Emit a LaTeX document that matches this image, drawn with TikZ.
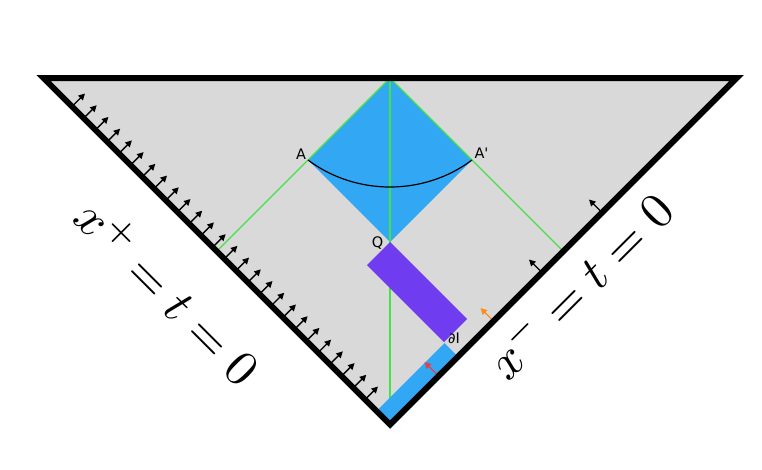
\documentclass[tikz,border=0pt]{standalone}
\usepackage{fontspec}
\newfontfamily\dejavu{DejaVu Sans}[Ligatures=TeXOff]
\usetikzlibrary{arrows.meta}
\definecolor{bggray}{RGB}{217,217,217}
\definecolor{wedgeblue}{RGB}{50,168,245}
\definecolor{islandpurple}{RGB}{111,60,240}
\definecolor{limeline}{RGB}{70,225,70}
\definecolor{arrorange}{RGB}{255,140,30}
\definecolor{arrred}{RGB}{232,62,72}
\begin{document}
\begin{tikzpicture}[x=1pt,y=-1pt,
  edgearrow/.style={-{Triangle[length=6.5pt,width=6.5pt]}, line width=1.4pt},
  greenline/.style={limeline, line width=1.1pt},
  ptlabel/.style={font=\dejavu\fontsize{14.5}{16}\selectfont, inner sep=0pt},
  biglabel/.style={inner sep=0pt}]
\useasboundingbox (0,0) rectangle (762,469);
% vertices
\coordinate (L) at (43.5,78);
\coordinate (R) at (736.5,78);
\coordinate (B) at (390,424.5);
\coordinate (T) at (390,78);
\coordinate (A) at (308,160);
\coordinate (Ap) at (472,160);
\coordinate (Q) at (390,242);
\coordinate (GL) at (217,251);
\coordinate (GR) at (563.5,251.5);
% background
\fill[bggray] (L) -- (R) -- (B) -- cycle;
% diamond
\fill[wedgeblue] (T) -- (Ap) -- (Q) -- (A) -- cycle;
% green lines
\draw[greenline] (T) -- (GL);
\draw[greenline] (T) -- (GR);
\draw[greenline] (T) -- (B);
% arc
\draw[line width=1.2pt] (A) .. controls (356,196) and (424,196) .. (Ap);
% purple rectangle
\coordinate (P1) at (467,319);
\coordinate (P2) at (444,342);
\coordinate (P3) at (367,265);
\fill[islandpurple] (Q) -- (P1) -- (P2) -- (P3) -- cycle;
% blue strip
\coordinate (S1) at (458,356.5);
\coordinate (S2) at (444.5,343);
\coordinate (S3) at (376.5,411);
\fill[wedgeblue] (B) -- (S1) -- (S2) -- (S3) -- cycle;
% left arrows
\foreach \i in {0,...,25} {
  \pgfmathsetmacro\fx{72+11.72*\i}
  \coordinate (la\i) at (\fx,{\fx+34.5});
  \draw[edgearrow] (la\i) -- ++(13,-13);
}
% right arrows
\coordinate (ra1) at (602,212.5);
\coordinate (ra2) at (542,272.5);
\coordinate (oa) at (493.5,321);
\coordinate (rr) at (438.5,376);
\draw[edgearrow] (ra1) -- ++(-13,-13);
\draw[edgearrow] (ra2) -- ++(-13,-13);
\draw[edgearrow, arrorange] (oa) -- ++(-13,-13);
\draw[edgearrow, arrred] (rr) -- ++(-14,-14);
% border
\draw[line width=6pt, line join=miter] (L) -- (R) -- (B) -- cycle;
% labels
\node[ptlabel] (lA) at (301,154) {A};
\node[ptlabel] (lAp) at (481.5,153) {A'};
\node[ptlabel] (lQ) at (377.5,243.5) {Q};
\node[ptlabel] (lI) at (454,338) {∂I};
\node[biglabel, rotate=-45] (lp) at (169.3,290.8) {\scalebox{5}{$x^+=t=0$}};
\node[biglabel, rotate=45] (lm) at (578.8,284.4) {\scalebox{5}{$x^-=t=0$}};
\end{tikzpicture}
\end{document}
